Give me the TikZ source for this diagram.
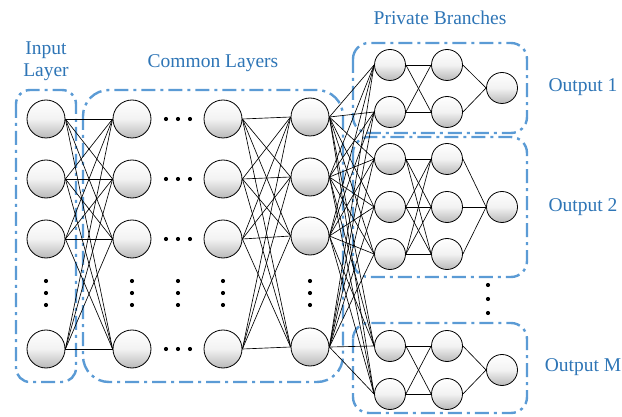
\documentclass[tikz,border=0pt]{standalone}
\usepackage{fontspec}
\setmainfont{Liberation Serif}
\definecolor{boxblue}{RGB}{91,155,213}
\definecolor{textblue}{RGB}{46,117,182}
\tikzset{
  neuron/.style={circle,draw=black,line width=0.8pt,minimum size=38pt,inner sep=0pt,
    top color=white,bottom color=gray!55,middle color=gray!10},
  small/.style={neuron,minimum size=31pt},
  group/.style={draw=boxblue,line width=2.4pt,dash pattern=on 14pt off 5pt on 3pt off 5pt},
  lab/.style={text=textblue,font=\fontsize{19.5}{22}\selectfont,align=center},
  link/.style={line width=0.65pt},
  dot/.style={circle,fill=black,inner sep=0pt,minimum size=4.2pt}
}
\begin{document}
\begin{tikzpicture}[x=1pt,y=-1pt]
\useasboundingbox (0,0) rectangle (622,417);

% group boxes
\draw[group,rounded corners=14pt] (16,90) rectangle (76,382);
\draw[group,rounded corners=26pt] (83,90) rectangle (343,382);
\draw[group,rounded corners=16pt] (353,43) rectangle (527,133);
\draw[group,rounded corners=16pt] (353,137) rectangle (527,277);
\draw[group,rounded corners=16pt] (353,323) rectangle (527,413);

% labels
\node[lab] (inlab) at (46,61) {Input\\Layer};
\node[lab] (comlab) at (213,63) {Common Layers};
\node[lab] (privlab) at (440,18) {Private Branches};
\node[lab] (out1) at (583,87) {Output 1};
\node[lab] (out2) at (583,207) {Output 2};
\node[lab] (outm) at (583,367) {Output M};

% input and common layers
\foreach \n/\y in {1/119,2/179,3/239,4/349} {
  \node[neuron] (in\n) at (46,\y) {};
  \node[neuron] (c\n) at (132,\y) {};
  \node[neuron] (d\n) at (223,\y) {};
}
\foreach \n/\y in {1/117,2/177,3/236,4/347}
  \node[neuron] (h\n) at (310,\y) {};

% output 1
\node[small] (o1a1) at (390,65) {};
\node[small] (o1a2) at (390,112) {};
\node[small] (o1b1) at (447,65) {};
\node[small] (o1b2) at (447,112) {};
\node[small] (o1c) at (502,88) {};

% output 2
\node[small] (o2a1) at (390,159) {};
\node[small] (o2a2) at (390,207) {};
\node[small] (o2a3) at (390,254) {};
\node[small] (o2b1) at (447,159) {};
\node[small] (o2b2) at (447,207) {};
\node[small] (o2b3) at (447,254) {};
\node[small] (o2c) at (502,207) {};

% output M
\node[small] (oma1) at (390,346) {};
\node[small] (oma2) at (390,394) {};
\node[small] (omb1) at (447,346) {};
\node[small] (omb2) at (447,394) {};
\node[small] (omc) at (502,370) {};

% connections
\foreach \i in {1,...,4}
  \foreach \j in {1,...,4} {
    \draw[link] (in\i.east) -- (c\j.west);
    \draw[link] (d\i.east) -- (h\j.west);
  }
\foreach \i in {1,...,4}
  \foreach \t in {o1a1,o1a2,o2a1,o2a2,o2a3,oma1,oma2}
    \draw[link] (h\i.east) -- (\t.west);
\foreach \i in {1,2}
  \foreach \j in {1,2} {
    \draw[link] (o1a\i.east) -- (o1b\j.west);
    \draw[link] (oma\i.east) -- (omb\j.west);
  }
\foreach \i in {1,2,3}
  \foreach \j in {1,2,3}
    \draw[link] (o2a\i.east) -- (o2b\j.west);
\foreach \j in {1,2} {
  \draw[link] (o1b\j.east) -- (o1c.west);
  \draw[link] (omb\j.east) -- (omc.west);
}
\foreach \j in {1,2,3}
  \draw[link] (o2b\j.east) -- (o2c.west);

% dots
\foreach \y in {119,179,239,349}
  \foreach \x in {166,178,190}
    \node[dot] at (\x,\y) {};
\foreach \x in {46,132,178,223,310}
  \foreach \y in {281,293,305}
    \node[dot] at (\x,\y) {};
\foreach \y in {285,299,313}
  \node[dot] at (488,\y) {};
\end{tikzpicture}
\end{document}
